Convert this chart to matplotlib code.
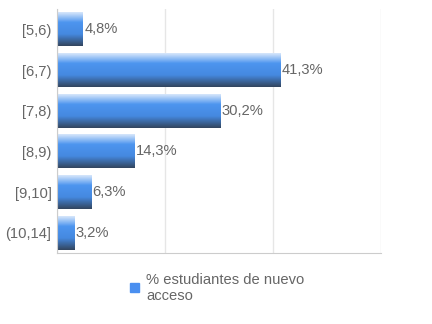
import numpy as np
import matplotlib.pyplot as plt
from matplotlib.colors import LinearSegmentedColormap
from matplotlib.patches import Rectangle

categories = ['[5,6)', '[6,7)', '[7,8)', '[8,9)', '[9,10]', '(10,14]']
values = [4.8, 41.3, 30.2, 14.3, 6.3, 3.2]
value_labels = ['4,8%', '41,3%', '30,2%', '14,3%', '6,3%', '3,2%']
series_name = '% estudiantes de nuevo\nacceso'

plt.rcParams['font.family'] = ['Liberation Sans', 'DejaVu Sans']
text_gray = '#666666'
fs = 10.6

# vertical gradient used to fake the glossy bars
grad = LinearSegmentedColormap.from_list(
    'gloss', [(0.0, '#d6e6fb'), (0.3, '#4d95ef'), (0.65, '#4589e0'), (1.0, '#33465f')])
strip = grad(np.linspace(0, 1, 64))[:, None, :]

fig = plt.figure(figsize=(4.32, 3.24), dpi=100)
ax = fig.add_axes([0.132, 0.219, 0.75, 0.753])

n = len(categories)
ypos = np.arange(n)[::-1]
h = 0.83
bars = ax.barh(ypos, values, height=h, color='none', zorder=2)
for b, v, lab in zip(bars, values, value_labels):
    y0 = b.get_y()
    ax.imshow(strip, extent=(0, v, y0, y0 + h), origin='upper',
              aspect='auto', zorder=2, interpolation='bilinear')
    ax.text(v + 0.3, y0 + h / 2, lab, va='center', ha='left',
            fontsize=fs, color=text_gray)

ax.set_xlim(0, 60)
ax.set_ylim(-0.5, n - 0.5)
ax.set_xticks([0, 20, 40, 60])
ax.set_xticklabels([])
ax.grid(axis='x', color='#e6e6e6', linewidth=1, zorder=0)
ax.set_yticks(ypos)
ax.set_yticklabels(categories, fontsize=fs, color=text_gray)
ax.tick_params(length=0, pad=4)
for s in ['top', 'right']:
    ax.spines[s].set_visible(False)
ax.spines['left'].set_color('#cccccc')
ax.spines['bottom'].set_color('#cccccc')
ax.set_axisbelow(True)

# legend drawn by hand below the plot
fig.patches.append(Rectangle((130 / 432, 1 - 292 / 324), 9 / 432, 9 / 324,
                             transform=fig.transFigure, color='#4a8ff0'))
fig.text(146 / 432, 1 - 288 / 324, series_name, fontsize=fs, color=text_gray,
         va='center', ha='left', linespacing=1.1)

fig.savefig('out.png', dpi=100)
